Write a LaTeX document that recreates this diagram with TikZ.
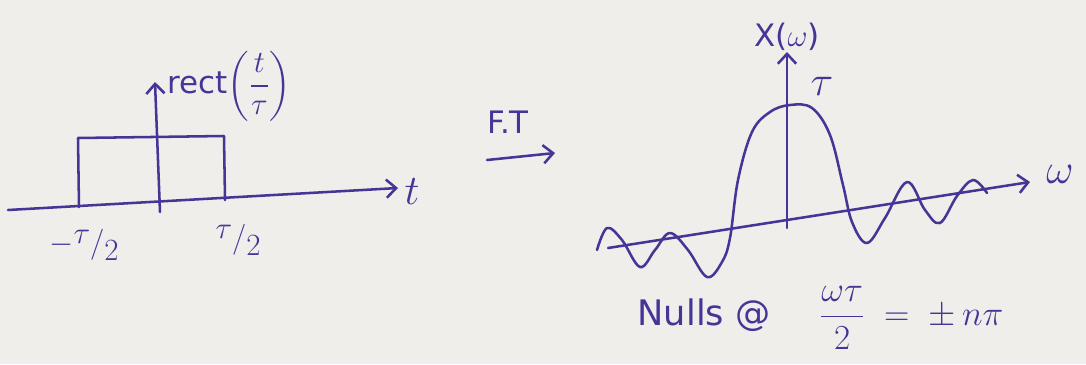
\RequirePackage{fix-cm}
\documentclass[tikz,border=0pt]{standalone}
\usepackage{amsmath}
\usepackage{fontspec}
\setmainfont{DejaVu Sans}
\usepackage{tikz}
\usetikzlibrary{arrows.meta, positioning, calc}
\definecolor{ink}{RGB}{72,52,150}
\definecolor{paper}{RGB}{240,238,235}
\newcommand{\slfrac}[2]{\raisebox{6pt}{$#1$}/\raisebox{-6pt}{$#2$}}

\begin{document}
\begin{tikzpicture}[x=0.025cm,y=-0.025cm,
    >={Straight Barb[length=7pt,width=13pt]},
    pen/.style={draw=ink,line width=1.8pt,line cap=round,line join=round},
    lbl/.style={text=ink,font=\fontsize{22}{26}\selectfont,inner sep=1pt},
    mlbl/.style={lbl,font=\fontsize{30}{34}\selectfont}]
  \fill[paper] (0,0) rectangle (1086,364);
  \useasboundingbox (0,0) rectangle (1086,364);
  % time domain
  \coordinate (tl) at (8,210);
  \coordinate (tr) at (398,188);
  \coordinate (vb) at (160,212);
  \coordinate (vt) at (155,82);
  \coordinate (rl) at (79,207);
  \coordinate (rr) at (225,200);
  \draw[pen,->] (tl) -- (tr);
  \draw[pen,->] (vb) -- (vt);
  \draw[pen] (rl) -- (78,138) -- (224,136) -- (rr);
  \node[lbl,anchor=west] (rect) at (166,86)
    {rect$\left(\dfrac{t}{\tau}\right)$};
  \node[mlbl] (t) at (412,192) {$t$};
  \node[lbl] (mhalf) at (84,245) {$-\slfrac{\tau}{2}$};
  \node[lbl] (phalf) at (238,240) {$\slfrac{\tau}{2}$};
  % transform arrow
  \coordinate (fa) at (487,160);
  \coordinate (fb) at (555,153);
  \draw[pen,->] (fa) -- (fb);
  \node[lbl] (ft) at (508,122) {F.T};
  % frequency domain
  \coordinate (wl) at (608,248);
  \coordinate (wr) at (1030,182);
  \coordinate (xb) at (787,228);
  \coordinate (xt) at (787,52);
  \draw[pen,->] (wl) -- (wr);
  \draw[pen,->] (xb) -- (xt);
  \node[lbl,above=0pt of xt] (X) {X($\omega$)};
  \node[mlbl] (tau) at (822,86) {$\tau$};
  \node[mlbl] (w) at (1060,174) {$\omega$};
  \draw[pen] plot[smooth,tension=0.6] coordinates {
    (597,250) (607,228) (622,240) (640,267) (655,250) (670,233) (688,250)
    (707,277) (722,262) (730,238) (738,180) (752,132) (770,112) (790,105)
    (812,108) (830,135) (843,185) (852,222) (867,243) (885,218) (907,182)
    (925,210) (940,223) (957,196) (973,180) (987,193)};
  \node[lbl,anchor=west,font=\fontsize{25}{30}\selectfont] (nulls) at (636,318)
    {Nulls @\hspace{1.4em}$\dfrac{\omega\tau}{2}\;=\;\pm\,n\pi$};
\end{tikzpicture}
\end{document}
